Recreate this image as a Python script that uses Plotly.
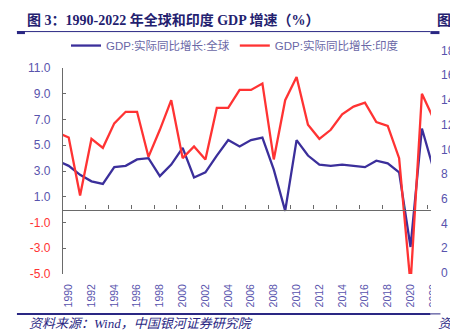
import plotly.graph_objects as go

# ---------------- data ----------------
years = list(range(1989, 2023))
world_gdp = [3.8, 3.4, 2.7, 2.2, 2.0, 3.3, 3.4, 3.9, 4.0, 2.6, 3.5, 4.8, 2.5, 2.9, 4.2,
             5.4, 4.9, 5.4, 5.6, 3.1, -0.1, 5.4, 4.2, 3.5, 3.4, 3.5, 3.4, 3.3, 3.8, 3.6,
             2.9, -2.9, 6.3, 3.2]
india_gdp = [6.0, 5.6, 1.1, 5.5, 4.8, 6.7, 7.6, 7.6, 4.1, 6.2, 8.5, 4.0, 4.9, 3.9, 7.9,
             7.9, 9.3, 9.3, 9.8, 3.9, 8.5, 10.3, 6.6, 5.5, 6.2, 7.4, 8.0, 8.3, 6.8, 6.5,
             4.0, -5.8, 9.0, 7.1]
series_names = ["GDP:实际同比增长:全球", "GDP:实际同比增长:印度"]
x_tick_years = list(range(1990, 2023, 2))
x_tick_labels = [str(y) for y in x_tick_years]
y_tick_vals = [11, 9, 7, 5, 3, 1, -1, -3, -5]
y_tick_labels = ["11.0", "9.0", "7.0", "5.0", "3.0", "1.0", "-1.0", "-3.0", "-5.0"]
neighbor_tick_labels = ["18", "16", "14", "12", "10", "8", "6", "4", "2", "0"]
title_text = "图 3：1990-2022 年全球和印度 GDP 增速（%）"
source_text = "资料来源：Wind，中国银河证券研究院"

# ---------------- geometry ----------------
W, H = 450, 332
L, T = 63, 67.5
PLOT_BOTTOM = 274
PH = PLOT_BOTTOM - T
PX_PER_YEAR = 11.38
X0, X1 = 1989.5, 2022.5
PW = (X1 - X0) * PX_PER_YEAR
R = W - L - PW
B = H - PLOT_BOTTOM

def pxx(px):
    return (px - L) / PW

def pxy(py):
    return (PLOT_BOTTOM - py) / PH

NAVY = "#2a2783"
TICK_COLOR = "#5853ad"
NEG_COLOR = "#ff3333"
AXIS_COLOR = "#6a6a6a"
BLUE = "#3b2f9b"
RED = "#ff3333"

fig = go.Figure()
fig.add_trace(go.Scatter(x=years, y=world_gdp, mode="lines", name=series_names[0],
                         line=dict(color=BLUE, width=2.3), hoverinfo="skip"))
fig.add_trace(go.Scatter(x=years, y=india_gdp, mode="lines", name=series_names[1],
                         line=dict(color=RED, width=2.3), hoverinfo="skip"))
# carrier for the zero-line axis
fig.add_trace(go.Scatter(x=[None], y=[None], xaxis="x2", yaxis="y", showlegend=False,
                         hoverinfo="skip"))

ytext = []
for v, s in zip(y_tick_vals, y_tick_labels):
    c = NEG_COLOR if v < 0 else TICK_COLOR
    ytext.append(f'<span style="color:{c}">{s}</span>')

fig.update_layout(
    width=W, height=H,
    margin=dict(l=L, r=R, t=T, b=B, pad=0),
    paper_bgcolor="white", plot_bgcolor="white",
    title=dict(text=f"<b>{title_text}</b>", x=27 / W, xanchor="left",
               y=1 - 20 / H, yanchor="middle",
               font=dict(family="Liberation Serif, Noto Sans CJK SC", size=14, color="#23216f")),
    xaxis=dict(range=[X0, X1], tickmode="array", tickvals=x_tick_years, ticktext=x_tick_labels,
               tickangle=-90, showline=False, ticks="", showgrid=False, zeroline=False,
               ticklabelstandoff=7,
               tickfont=dict(family="Liberation Sans", size=10.5, color=TICK_COLOR)),
    xaxis2=dict(range=[X0, X1], overlaying="x", anchor="free", position=5 / 16, side="bottom",
                showline=True, linecolor=AXIS_COLOR, linewidth=1.3,
                ticks="inside", tickmode="array",
                tickvals=[X0 + 2 * k for k in range(17)], ticklen=4, tickwidth=1.2,
                tickcolor=AXIS_COLOR, showticklabels=False, showgrid=False, zeroline=False),
    yaxis=dict(range=[-5, 11], tickmode="array", tickvals=y_tick_vals, ticktext=ytext,
               showline=True, linecolor=AXIS_COLOR, linewidth=1.3, ticks="inside",
               ticklen=3, tickwidth=1.2, tickcolor=AXIS_COLOR, showgrid=False, zeroline=False,
               ticklabelstandoff=9,
               tickfont=dict(family="Liberation Sans", size=12, color=TICK_COLOR)),
    legend=dict(orientation="h", x=pxx(66), xanchor="left", y=pxy(45), yanchor="middle",
                bgcolor="rgba(0,0,0,0)", borderwidth=0,
                font=dict(family="Liberation Sans, Noto Sans CJK SC", size=11.5, color="#6a67a6")),
    showlegend=True,
)

shapes = [
    # cover the part of the chart cut off by the page crop
    dict(type="rect", xref="paper", yref="paper", x0=pxx(430.5), x1=pxx(455),
         y0=pxy(311), y1=pxy(38), fillcolor="white", line=dict(width=0), layer="above"),
    # title rule
    dict(type="line", xref="paper", yref="paper", x0=pxx(17), x1=pxx(430), y0=pxy(31), y1=pxy(31),
         line=dict(color=NAVY, width=1)),
    dict(type="rect", xref="paper", yref="paper", x0=pxx(17), x1=pxx(25), y0=pxy(33.5), y1=pxy(30.5),
         fillcolor=NAVY, line=dict(width=0), layer="above"),
    dict(type="rect", xref="paper", yref="paper", x0=pxx(430), x1=pxx(439), y0=pxy(33.5), y1=pxy(30.5),
         fillcolor=NAVY, line=dict(width=0), layer="above"),
    # bottom rule
    dict(type="line", xref="paper", yref="paper", x0=pxx(17), x1=pxx(430), y0=pxy(314), y1=pxy(314),
         line=dict(color=NAVY, width=2), layer="above"),
    dict(type="line", xref="paper", yref="paper", x0=pxx(430), x1=pxx(440), y0=pxy(314), y1=pxy(314),
         line=dict(color=NAVY, width=1), layer="above"),
]
fig.update_layout(shapes=shapes)

ann = [
    dict(text=source_text, xref="paper", yref="paper", x=pxx(27), y=pxy(323.5), xanchor="left",
         yanchor="middle", showarrow=False,
         font=dict(family="Liberation Serif, Noto Sans CJK SC", size=13, color=NAVY, style="italic")),
    dict(text="<b>图</b>", xref="paper", yref="paper", x=pxx(435), y=pxy(20), xanchor="left",
         yanchor="middle", showarrow=False,
         font=dict(family="Liberation Serif, Noto Sans CJK SC", size=14, color="#23216f")),
    dict(text="资", xref="paper", yref="paper", x=pxx(436), y=pxy(323.5), xanchor="left",
         yanchor="middle", showarrow=False,
         font=dict(family="Liberation Serif, Noto Sans CJK SC", size=13, color=NAVY, style="italic")),
]
for i, s in enumerate(neighbor_tick_labels):
    ann.append(dict(text=s, xref="paper", yref="paper", x=pxx(439), y=pxy(50 + i * 24.8),
                    xanchor="left", yanchor="middle", showarrow=False,
                    font=dict(family="Liberation Sans", size=12, color=TICK_COLOR)))
fig.update_layout(annotations=ann)

fig.write_html("out.html")
